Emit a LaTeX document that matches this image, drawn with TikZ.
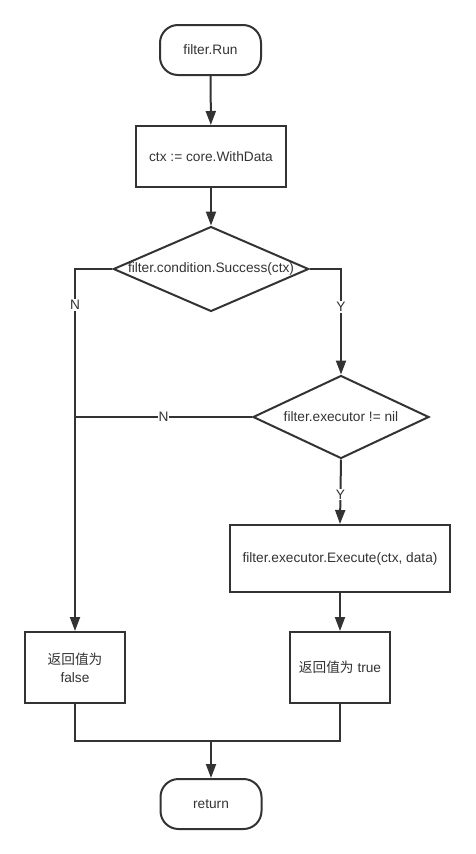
\documentclass[tikz,border=0pt]{standalone}
\usepackage{fontspec}
\setmainfont{Liberation Sans}
\newfontfamily\cjk{Noto Sans CJK SC}
\usetikzlibrary{shapes.geometric,arrows.meta}

\definecolor{ink}{HTML}{333333}

\tikzset{
  term/.style={draw=ink,line width=2pt,rectangle,rounded corners=18pt,minimum width=101pt,minimum height=50pt},
  proc/.style={draw=ink,line width=2pt,rectangle,align=center},
  cond/.style={draw=ink,line width=2pt,diamond,aspect=2.3,inner sep=0pt},
  flow/.style={draw=ink,line width=2pt,-{Triangle[length=14pt,width=10pt]}},
  link/.style={draw=ink,line width=2pt},
  lbl/.style={fill=white,inner sep=1pt,text=ink}
}

\begin{document}
\begin{tikzpicture}[x=1pt,y=-1pt,font=\fontsize{13.7}{18}\selectfont,text=ink]
\useasboundingbox (0,0) rectangle (475,854);

\node [term] (run) at(210.5,50){filter.Run};
\node [proc,minimum width=150pt,minimum height=61pt] (ctx) at(211,156.5){ctx := core.WithData};

\node [cond,minimum width=192pt,minimum height=83pt] (succ) at(211,269){filter.condition.Success(ctx)};
\node [cond,minimum width=176pt,minimum height=83pt] (nil) at(341,417){filter.executor != nil};

\node [proc,minimum width=220pt,minimum height=67pt] (exec) at(340,558.5){filter.executor.Execute(ctx, data)};
\node [proc,minimum width=100pt,minimum height=71pt] (ok) at(340,667.5){{\cjk 返回值为} true};
\node [proc,minimum width=100pt,minimum height=71pt] (bad) at(75,667.5){{\cjk 返回值为}\\false};

\node [term] (ret) at(211,804){return};

\coordinate (join) at(75,417);
\coordinate (merge) at(211,741);

\draw[flow](run) -- (ctx);
\draw[flow](ctx) -- (succ);
\draw[flow](succ.west) -| node[lbl,pos=0.55]{N} (bad.north);
\draw[flow](succ.east) -| node[lbl,pos=0.68]{Y} (nil.north);
\draw[link](nil.west) -- node[lbl]{N} (join);
\draw[flow](nil.south) -- node[lbl,pos=0.54]{Y} (exec.north);
\draw[flow](exec) -- (ok);

\draw[link](bad.south) |- (merge);
\draw[link](ok.south) |- (merge);
\draw[flow](merge) -- (ret);
\end{tikzpicture}
\end{document}
